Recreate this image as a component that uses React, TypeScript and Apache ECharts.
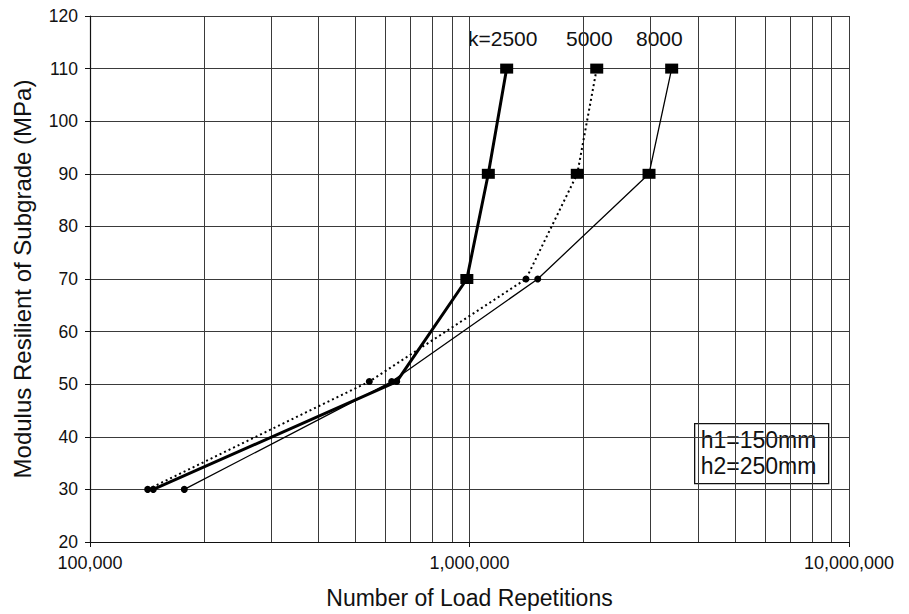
import React, { useEffect, useRef } from "react";
import * as echarts from "echarts";

const yLevels = [30, 50.5, 70, 90, 110];
const k2500 = [146800, 643000, 984000, 1121000, 1253000];
const k5000 = [141900, 544500, 1409000, 1923000, 2164000];
const k8000 = [177200, 623700, 1513000, 2972000, 3410000];
const seriesNames = ["k=2500", "5000", "8000"];
const xTickLabels = ["100,000", "1,000,000", "10,000,000"];
const minorGrid = [
  200000, 300000, 400000, 500000, 600000, 700000, 800000, 900000,
  2000000, 3000000, 4000000, 5000000, 6000000, 7000000, 8000000, 9000000,
];
const boxLines = ["h1=150mm", "h2=250mm"];

const FONT = "Liberation Sans, Arial, sans-serif";

function buildData(xs: number[], squaresFrom: number) {
  return xs.map((x, i) => ({
    value: [x, yLevels[i]],
    symbol: i >= squaresFrom ? "rect" : "circle",
    symbolSize: i >= squaresFrom ? [13, 10] : 7,
  }));
}

export default function App() {
  const ref = useRef<HTMLDivElement>(null);
  useEffect(() => {
    if (!ref.current) return;
    const chart = echarts.init(ref.current, undefined, { renderer: "svg" });
    const gridColor = "#3a3a3a";
    const option: any = {
      animation: false,
      backgroundColor: "#ffffff",
      grid: { left: 90, right: 60, top: 16, bottom: 70, containLabel: false },
      xAxis: {
        type: "log",
        logBase: 10,
        min: 100000,
        max: 10000000,
        name: "Number of Load Repetitions",
        nameLocation: "middle",
        nameGap: 44,
        nameTextStyle: { fontFamily: FONT, fontSize: 23, color: "#111" },
        axisLine: { show: true, lineStyle: { color: "#111", width: 1.2 } },
        axisTick: { show: true, length: 5, lineStyle: { color: "#111" } },
        axisLabel: {
          fontFamily: FONT,
          fontSize: 18,
          color: "#111",
          margin: 12,
          formatter: (v: number) => {
            const idx = Math.round(Math.log10(v)) - 5;
            return xTickLabels[idx] ?? "";
          },
        },
        splitLine: { show: true, lineStyle: { color: gridColor, width: 1 } },
      },
      yAxis: {
        type: "value",
        min: 20,
        max: 120,
        interval: 10,
        name: "Modulus Resilient of Subgrade (MPa)",
        nameLocation: "middle",
        nameGap: 56,
        nameTextStyle: { fontFamily: FONT, fontSize: 24, color: "#111" },
        axisLine: { show: true, lineStyle: { color: "#111", width: 1.2 } },
        axisTick: { show: true, length: 5, lineStyle: { color: "#111" } },
        axisLabel: { fontFamily: FONT, fontSize: 17.5, color: "#111", margin: 12 },
        splitLine: { show: true, lineStyle: { color: gridColor, width: 1 } },
      },
      series: [
        {
          name: seriesNames[0],
          type: "line",
          data: buildData(k2500, 2),
          lineStyle: { color: "#000", width: 3 },
          itemStyle: { color: "#000" },
          z: 5,
          markLine: {
            silent: true,
            symbol: "none",
            label: { show: false },
            lineStyle: { color: gridColor, width: 1, type: "solid" },
            data: minorGrid.map((v) => ({ xAxis: v })),
            z: 1,
          },
        },
        {
          name: seriesNames[1],
          type: "line",
          data: buildData(k5000, 3),
          lineStyle: { color: "#000", width: 2, type: [2, 3] },
          itemStyle: { color: "#000" },
          z: 4,
        },
        {
          name: seriesNames[2],
          type: "line",
          data: buildData(k8000, 3),
          lineStyle: { color: "#000", width: 1.3 },
          itemStyle: { color: "#000" },
          z: 3,
        },
      ],
      graphic: [
        {
          type: "text",
          left: 468,
          top: 28,
          style: { text: seriesNames[0], font: `21px ${FONT}`, fill: "#111" },
        },
        {
          type: "text",
          left: 566,
          top: 28,
          style: { text: seriesNames[1], font: `21px ${FONT}`, fill: "#111" },
        },
        {
          type: "text",
          left: 636,
          top: 28,
          style: { text: seriesNames[2], font: `21px ${FONT}`, fill: "#111" },
        },
        {
          type: "group",
          left: 694,
          top: 423,
          children: [
            {
              type: "rect",
              shape: { x: 0, y: 0, width: 134, height: 60 },
              style: { fill: "#fff", stroke: "#111", lineWidth: 1.3 },
            },
            {
              type: "text",
              x: 6,
              y: 5,
              style: { text: boxLines[0], font: `23px ${FONT}`, fill: "#111" },
            },
            {
              type: "text",
              x: 6,
              y: 31,
              style: { text: boxLines[1], font: `23px ${FONT}`, fill: "#111" },
            },
          ],
        },
      ],
    };
    chart.setOption(option);
    return () => chart.dispose();
  }, []);
  return (
    <div
      ref={ref}
      style={{ position: "fixed", left: 0, top: 0, width: 909, height: 614, background: "#fff" }}
    />
  );
}
